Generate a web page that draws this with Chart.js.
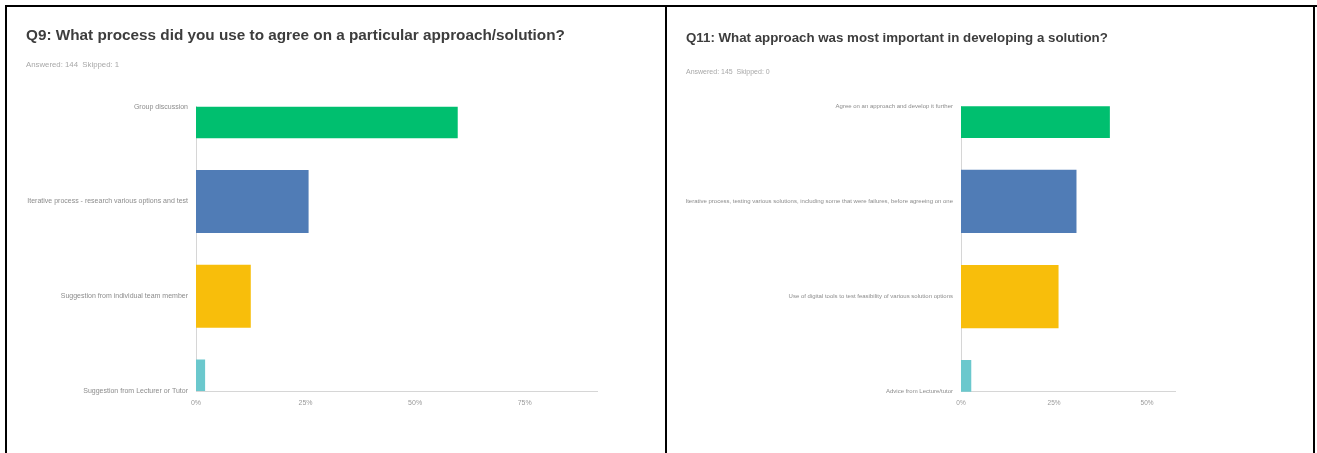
<!DOCTYPE html>
<html>
<head>
<meta charset="utf-8">
<script src="https://cdn.jsdelivr.net/npm/chart.js@4/dist/chart.umd.min.js"></script>
<style>
  html, body { margin: 0; padding: 0; background: #fff; }
  body { width: 1317px; height: 453px; position: relative; overflow: hidden; }
  .line { position: absolute; background: #000; }
  .panel { position: absolute; top: 8px; height: 445px; }
</style>
</head>
<body>
<div class="line" style="left:5px;top:5px;width:1312px;height:2px"></div>
<div class="line" style="left:5px;top:5px;width:2px;height:448px"></div>
<div class="line" style="left:665px;top:5px;width:2px;height:448px"></div>
<div class="line" style="left:1313px;top:5px;width:2px;height:448px"></div>

<div class="panel" style="left:8px;width:656px"><canvas id="q9Chart"></canvas></div>
<div class="panel" style="left:669px;width:644px"><canvas id="q11Chart"></canvas></div>

<script>
Chart.defaults.font.family = "'Liberation Sans Narrow', 'Arial Narrow', 'Liberation Sans', sans-serif"
Chart.defaults.animation = false

const barColors = ['#00bf6f', '#507cb6', '#f8be0b', '#6bc8cd']

const q9Title = 'Q9: What process did you use to agree on a particular approach/solution?'
const q9Subtitle = 'Answered: 144  Skipped: 1'
const q9Labels = [
  'Group discussion',
  'Iterative process - research various options and test',
  'Suggestion from individual team member',
  'Suggestion from Lecturer or Tutor'
]
const q9Values = [59.72, 25.69, 12.50, 2.08]
const q9Ticks = [0, 25, 50, 75]

const q11Title = 'Q11: What approach was most important in developing a solution?'
const q11Subtitle = 'Answered: 145  Skipped: 0'
const q11Labels = [
  'Agree on an approach and develop it further',
  'Iterative process, testing various solutions, including some that were failures, before agreeing on one',
  'Use of digital tools to test feasibility of various solution options',
  'Advice from Lecture/tutor'
]
const q11Values = [40.00, 31.03, 26.21, 2.76]
const q11Ticks = [0, 25, 50]

const renderBarChart = (canvasId, cfg) => {
  const canvas = document.getElementById(canvasId)

  new Chart(canvas, {
    type: 'bar',
    data: {
      labels: cfg.labels,
      datasets: [{
        data: cfg.values,
        backgroundColor: barColors,
        borderWidth: 0,
        categoryPercentage: 1,
        barPercentage: 0.665
      }]
    },
    options: {
      indexAxis: 'y',
      responsive: true,
      maintainAspectRatio: false,
      layout: { padding: cfg.padding },
      plugins: {
        legend: { display: false },
        tooltip: { enabled: false },
        title: {
          display: true,
          text: cfg.title,
          align: 'start',
          color: '#3d3d3d',
          font: { size: cfg.titleSize, weight: 'bold' },
          padding: { top: 0, bottom: cfg.titleGap }
        },
        subtitle: {
          display: true,
          text: cfg.subtitle,
          align: 'start',
          color: '#a8a8a8',
          font: { size: cfg.subSize },
          padding: { top: 0, bottom: cfg.subGap }
        }
      },
      scales: {
        x: {
          min: 0,
          max: cfg.max,
          grid: { display: false, drawTicks: false },
          border: { display: true, color: '#d6d6d6', width: 1 },
          afterBuildTicks: (scale) => {
            scale.ticks = cfg.ticks.map((v) => ({ value: v }))
          },
          ticks: {
            color: '#9a9a9a',
            font: { size: cfg.xTickSize },
            padding: 8,
            callback: (value) => `${value}%`
          }
        },
        y: {
          offset: false,
          grid: { display: false, drawTicks: false },
          border: { display: true, color: '#d6d6d6', width: 1 },
          afterFit: (scale) => {
            scale.width = cfg.axisWidth
          },
          ticks: {
            color: '#8c8c8c',
            font: { size: cfg.yTickSize },
            padding: 8,
            autoSkip: false
          }
        }
      }
    }
  })
}

document.addEventListener('DOMContentLoaded', () => {
  renderBarChart('q9Chart', {
    labels: q9Labels, values: q9Values, ticks: q9Ticks, max: 91.5,
    title: q9Title, subtitle: q9Subtitle,
    titleSize: 15.3, subSize: 7.8, titleGap: 15, subGap: 37,
    yTickSize: 7, xTickSize: 7,
    axisWidth: 170,
    padding: { left: 18, right: 67, top: 19, bottom: 37.5 }
  })
  renderBarChart('q11Chart', {
    labels: q11Labels, values: q11Values, ticks: q11Ticks, max: 57.5,
    title: q11Title, subtitle: q11Subtitle,
    titleSize: 13.3, subSize: 7, titleGap: 22, subGap: 30,
    yTickSize: 6, xTickSize: 6.5,
    axisWidth: 275,
    padding: { left: 17, right: 138, top: 22, bottom: 37.5 }
  })
})
</script>
</body>
</html>
